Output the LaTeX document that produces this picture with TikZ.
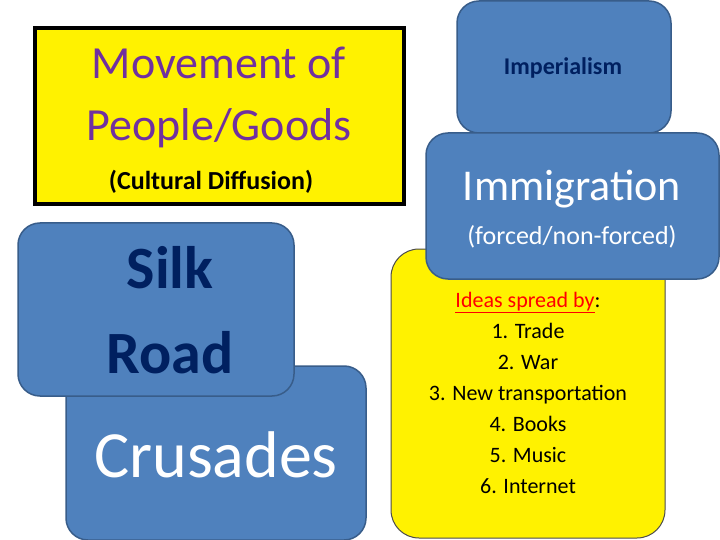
\documentclass[tikz,border=0pt]{standalone}
\usepackage{fontspec}
\setmainfont{Carlito}
\definecolor{bx}{HTML}{4F81BD}
\definecolor{bxd}{HTML}{385D8A}
\definecolor{navy}{HTML}{002060}
\definecolor{purp}{HTML}{7030A0}
\begin{document}
\begin{tikzpicture}[x=1pt,y=-1pt,
 blue/.style={fill=bx,draw=bxd,line width=1.5pt,rounded corners=22pt}]
\useasboundingbox (0,0) rectangle (720,540);
\fill[white] (0,0) rectangle (720,540);
% yellow title box
\draw[fill=yellow,line width=4pt] (35,28) rectangle (404,204);
\node[text=purp,align=center,font=\fontsize{46}{62}\selectfont] (t1) at (219,97) {Movement of\\People/Goods};
\node[font=\bfseries\fontsize{26}{30}\selectfont] (t2) at (211,182) {(Cultural Diffusion)};
% crusades / silk road
\draw[blue] (66,366) rectangle (366,540);
\node[text=white,font=\fontsize{66}{80}\selectfont] (cr) at (216,455) {Crusades};
\draw[blue] (18,223) rectangle (294,396);
\node[text=navy,align=center,font=\bfseries\fontsize{60}{85}\selectfont] (sr) at (170,310) {Silk\\Road};
% ideas box
\draw[fill=yellow,draw=black!70,line width=1pt,rounded corners=28pt] (391,249) rectangle (665,538);
\node[align=center,font=\fontsize{22}{31}\selectfont] (id) at (528,393) {\textcolor{red}{\underline{Ideas spread by}}:\\1. Trade\\2. War\\3. New transportation\\4. Books\\5. Music\\6. Internet};
% imperialism / immigration
\draw[blue] (457,1) rectangle (671,133);
\node[text=navy,font=\bfseries\fontsize{24}{28}\selectfont] (im) at (563,68) {Imperialism};
\draw[blue] (426,133) rectangle (719,279);
\node[text=white,font=\fontsize{44}{52}\selectfont] (ig) at (572,189) {Immigration};
\node[text=white,font=\fontsize{26}{30}\selectfont] (fo) at (572,237) {(forced/non-forced)};
\end{tikzpicture}
\end{document}
